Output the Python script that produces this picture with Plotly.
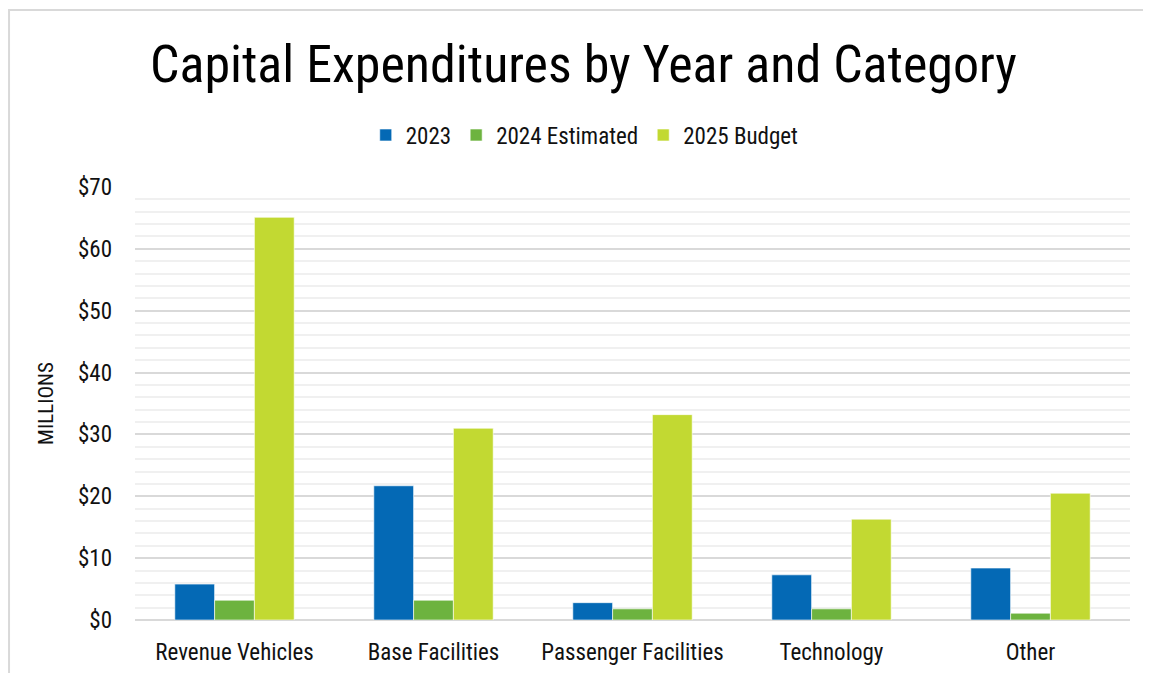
import plotly.graph_objects as go

# --- data ---
categories = ["Revenue Vehicles", "Base Facilities", "Passenger Facilities", "Technology", "Other"]
capex_2023 = [5.8, 21.7, 2.8, 7.3, 8.4]
capex_2024_est = [3.2, 3.2, 1.8, 1.8, 1.1]
capex_2025_budget = [65.1, 31.0, 33.2, 16.3, 20.5]

series = [
    ("2023", capex_2023, "#0469b5"),
    ("2024 Estimated", capex_2024_est, "#6db33f"),
    ("2025 Budget", capex_2025_budget, "#c2d932"),
]

FONT = "Liberation Sans Narrow, Roboto Condensed, Roboto, sans-serif"

fig = go.Figure()
for name, vals, color in series:
    fig.add_trace(go.Bar(
        x=categories, y=vals, name=name,
        marker=dict(color=color, line=dict(color="rgba(255,255,255,0.6)", width=1)),
    ))

# the page body adds an 8px offset, so margins are shifted to compensate
fig.update_layout(
    width=1151, height=673,
    margin=dict(l=127, r=29, t=179, b=61),
    paper_bgcolor="white", plot_bgcolor="white",
    font=dict(family=FONT, color="#111111", size=22),
    barmode="group", bargap=0.4, bargroupgap=0,
    title=dict(
        text="Capital Expenditures by Year and Category",
        x=0.5, xanchor="center", y=0.917, yanchor="middle",
        font=dict(size=52, family=FONT, color="#000000"),
    ),
    legend=dict(
        orientation="h", x=0.452, xanchor="center", y=1.12, yanchor="middle",
        font=dict(size=23), itemwidth=30, traceorder="normal",
    ),
    showlegend=True,
)

fig.update_xaxes(
    showline=False, ticks="", tickfont=dict(size=23), ticklabelstandoff=16,
)
fig.update_yaxes(
    range=[0, 70], dtick=10, tickprefix="$",
    showgrid=True, gridcolor="#d9d9d9", gridwidth=2,
    minor=dict(dtick=2, showgrid=True, gridcolor="#f0f0f0", gridwidth=2),
    zeroline=True, zerolinecolor="#d9d9d9", zerolinewidth=2,
    tickfont=dict(size=23), ticks="", ticklabelstandoff=22,
    title=dict(text="MILLIONS", font=dict(size=21), standoff=18),
)

# light frame around the chart
fig.add_shape(
    type="rect", xref="paper", yref="paper",
    x0=-0.1266, x1=1.2, y0=-0.5, y1=1.4088,
    line=dict(color="#d9d9d9", width=2), fillcolor="rgba(0,0,0,0)", layer="below",
)

fig.write_html("out.html")
